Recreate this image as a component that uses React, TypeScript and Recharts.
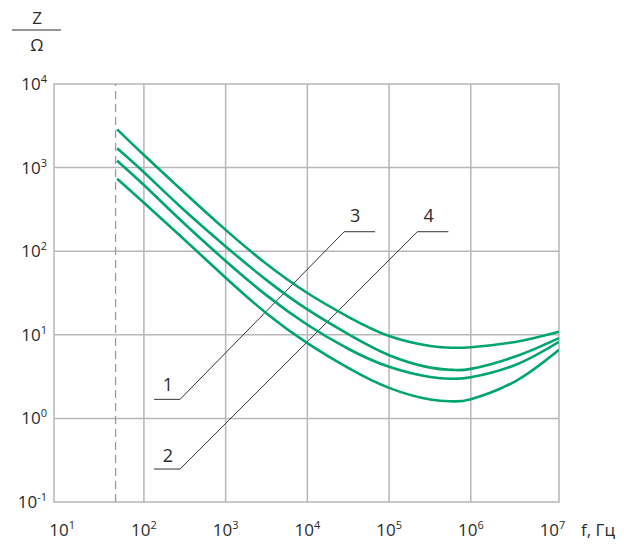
import React from 'react';
import {
  ComposedChart,
  Line,
  XAxis,
  YAxis,
  ReferenceLine,
  ReferenceArea,
  ReferenceDot,
} from 'recharts';

// frequency points (Hz) shared by the four impedance curves
const freq = [47, 100, 280, 1000, 3200, 10000, 32000, 100000, 320000, 600000, 1000000, 3500000, 12000000];

// impedance, Ω (top curve first)
const zTop = [2870, 1416, 555, 180, 69.7, 31.6, 16.3, 9.68, 7.36, 7.01, 7.11, 8.22, 10.9];
const zSecond = [1702, 879, 340, 114, 44.8, 20.1, 10.1, 5.7, 4.05, 3.81, 3.91, 5.5, 9.14];
const zThird = [1211, 619, 236, 76.4, 29.4, 13.2, 6.76, 4.14, 3.12, 2.98, 3.1, 4.36, 8.26];
const zBottom = [736, 380, 152, 48.2, 17.9, 7.96, 4.0, 2.32, 1.68, 1.6, 1.7, 2.78, 6.62];

// leader lines for the curve numbers
const leader13F = [133, 277, 28200, 67400];
const leader13Z = [1.69, 1.69, 171, 171];
const leader24F = [133, 277, 222000, 532000];
const leader24Z = [0.248, 0.248, 171, 171];

const labelNames = ['1', '2', '3', '4'];
const labelF = [197, 197, 38400, 305000];
const labelZ = [2.51, 0.355, 264, 264];

const mainsFreq = 45;

const xTicks = [10, 100, 1000, 10000, 100000, 1000000, 10000000];
const yTicks = [0.1, 1, 10, 100, 1000, 10000];
const xGrid = [100, 1000, 10000, 100000, 1000000];
const yGrid = [1, 10, 100, 1000];

const xDomain = [7.94, 12000000];
const yDomain = [0.1, 10000];

const GREEN = '#00a470';
const GRID = '#b7b7b7';
const TEXT = '#2b2b2b';
const FONT = '"Open Sans", "Noto Sans", sans-serif';

const toSeries = (xs: number[], ys: number[]) => xs.map((f, i) => ({ f, z: ys[i] }));
const curves = [zTop, zSecond, zThird, zBottom].map((z) => toSeries(freq, z));
const leaders = [toSeries(leader13F, leader13Z), toSeries(leader24F, leader24Z)];

const exp10 = (v: number) => Math.round(Math.log10(v));

const XTick = (props: any) => {
  const { x, y, payload } = props;
  return (
    <text x={x} y={y + 34} textAnchor="middle" fill={TEXT} fontFamily={FONT} fontSize={17}>
      <tspan>10</tspan>
      <tspan dy={-7} fontSize={11}>{exp10(payload.value)}</tspan>
    </text>
  );
};

const YTick = (props: any) => {
  const { x, y, payload } = props;
  return (
    <text x={x} y={y + 6} textAnchor="end" fill={TEXT} fontFamily={FONT} fontSize={17}>
      <tspan>10</tspan>
      <tspan dy={-7} fontSize={11}>{exp10(payload.value)}</tspan>
    </text>
  );
};

const YTitle = (props: any) => {
  const { x, y } = props.viewBox;
  return (
    <g fontFamily={FONT} fill={TEXT}>
      <text x={x + 37} y={y - 60} textAnchor="middle" fontSize={17}>Z</text>
      <line x1={x + 12} x2={x + 61} y1={y - 54} y2={y - 54} stroke={TEXT} strokeWidth={1} />
      <text x={x + 37} y={y - 33} textAnchor="middle" fontSize={17}>Ω</text>
    </g>
  );
};

const XTitle = (props: any) => {
  const { x, y, width } = props.viewBox;
  return (
    <text x={x + width + 22} y={y + 34} fill={TEXT} fontFamily={FONT} fontSize={17}>
      f, Гц
    </text>
  );
};

export default function App() {
  return (
    <div style={{ position: 'absolute', left: 0, top: 0, background: '#fff' }}>
      <ComposedChart width={624} height={547} margin={{ top: 84, right: 65, bottom: 0, left: 0 }}>
        <XAxis
          dataKey="f"
          type="number"
          scale="log"
          domain={xDomain}
          allowDataOverflow
          ticks={xTicks}
          interval={0}
          height={45}
          axisLine={false}
          tickLine={false}
          tickSize={0}
          tickMargin={0}
          tick={<XTick />}
          label={{ content: <XTitle /> }}
        />
        <YAxis
          dataKey="z"
          type="number"
          scale="log"
          domain={yDomain}
          allowDataOverflow
          ticks={yTicks}
          interval={0}
          width={54}
          axisLine={false}
          tickLine={false}
          tickSize={0}
          tickMargin={7}
          tick={<YTick />}
          label={{ content: <YTitle /> }}
        />

        {xGrid.map((v) => (
          <ReferenceLine key={`gx${v}`} x={v} stroke={GRID} strokeWidth={1.5} />
        ))}
        {yGrid.map((v) => (
          <ReferenceLine key={`gy${v}`} y={v} stroke={GRID} strokeWidth={1.5} />
        ))}
        <ReferenceArea
          x1={xDomain[0]}
          x2={xDomain[1]}
          y1={yDomain[0]}
          y2={yDomain[1]}
          fill="none"
          fillOpacity={0}
          stroke={GRID}
          strokeWidth={1.5}
        />
        <ReferenceLine x={mainsFreq} stroke="#9a9a9a" strokeWidth={1.3} strokeDasharray="8 5" />

        {leaders.map((d, i) => (
          <Line
            key={`ld${i}`}
            data={d}
            dataKey="z"
            type="linear"
            stroke="#333"
            strokeWidth={1}
            dot={false}
            activeDot={false}
            isAnimationActive={false}
          />
        ))}

        {curves.map((d, i) => (
          <Line
            key={`c${i}`}
            data={d}
            dataKey="z"
            type="natural"
            stroke={GREEN}
            strokeWidth={2.6}
            dot={false}
            activeDot={false}
            isAnimationActive={false}
          />
        ))}

        {labelNames.map((name, i) => (
          <ReferenceDot
            key={`lb${name}`}
            x={labelF[i]}
            y={labelZ[i]}
            r={0}
            fill="none"
            stroke="none"
            label={{ value: name, position: 'center', fill: TEXT, fontSize: 18, fontFamily: FONT }}
          />
        ))}
      </ComposedChart>
    </div>
  );
}
